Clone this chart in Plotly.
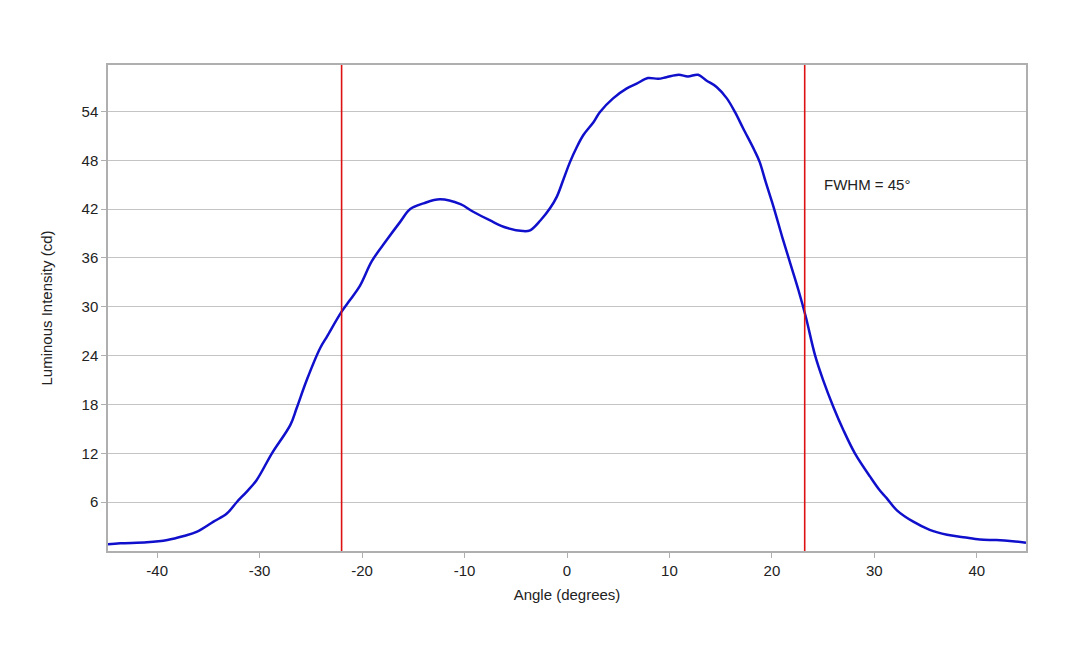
import plotly.graph_objects as go

# Data
angle = [-44.8, -43.6, -41.0, -39.0, -37.4, -36.1, -34.5, -33.2, -32.2, -31.25, -30.3, -28.8,
         -27.0, -26.4, -25.4, -24.1, -23.4, -22.0, -21.2, -20.2, -19.05, -17.6, -16.3, -15.3,
         -14.0, -12.4, -10.4, -9.2, -7.5, -5.9, -4.3, -3.6, -2.6, -1.66, -1.0, -0.36, 0.3,
         0.95, 1.6, 2.6, 3.2, 4.5, 5.8, 6.8, 7.9, 8.9, 9.7, 10.9, 11.8, 12.8, 13.6, 14.6,
         15.6, 16.4, 17.2, 18.3, 18.8, 19.4, 20.2, 21.0, 21.8, 22.6, 23.3, 24.2, 25.0, 26.0,
         26.96, 28.1, 29.6, 30.5, 31.2, 32.2, 33.8, 35.4, 37.1, 38.7, 40.3, 41.9, 43.5, 44.8]
intensity = [0.82, 0.95, 1.07, 1.35, 1.84, 2.37, 3.6, 4.6, 6.05, 7.3, 8.7, 12.0,
             15.5, 17.5, 21.0, 24.9, 26.4, 29.4, 30.8, 32.6, 35.6, 38.2, 40.4, 42.0,
             42.7, 43.2, 42.6, 41.7, 40.6, 39.7, 39.3, 39.4, 40.6, 42.1, 43.5, 45.6, 47.8,
             49.6, 51.1, 52.7, 53.9, 55.6, 56.8, 57.4, 58.1, 58.0, 58.2, 58.5, 58.3, 58.5, 57.8, 57.0,
             55.6, 53.9, 51.9, 49.2, 47.8, 45.3, 42.1, 38.6, 35.3, 32.0, 28.8, 24.1, 21.0, 17.7,
             14.9, 12.0, 9.1, 7.5, 6.5, 5.0, 3.6, 2.6, 2.0, 1.7, 1.4, 1.35, 1.2, 1.0]

fwhm_angles = [-22.0, 23.2]
fwhm_label = "FWHM = 45°"
x_ticks = [-40, -30, -20, -10, 0, 10, 20, 30, 40]
x_ticktext = ["-40", "-30", "-20", "-10", "0", "10", "20", "30", "40"]
y_ticks = [6, 12, 18, 24, 30, 36, 42, 48, 54]
x_range = [-44.8, 44.8]
y_range = [0, 59.7]

font_family = "Liberation Sans, Arial, sans-serif"

fig = go.Figure()

fig.add_trace(go.Scatter(
    x=angle, y=intensity, mode="lines",
    line=dict(color="#0F0FCC", width=2.5, shape="spline", smoothing=1.0),
    showlegend=False, hoverinfo="skip",
))

for a in fwhm_angles:
    fig.add_trace(go.Scatter(
        x=[a, a], y=y_range, mode="lines",
        line=dict(color="#DD1111", width=1.6),
        showlegend=False, hoverinfo="skip",
    ))

fig.add_annotation(
    x=24.85, y=45.06, text=fwhm_label, showarrow=False,
    xanchor="left", yanchor="middle",
    font=dict(family=font_family, size=15, color="#222222"),
)

axis_common = dict(
    showline=True, linecolor="#AFAFAF", linewidth=1.5, mirror=True,
    ticks="outside", ticklen=5, tickcolor="#AFAFAF",
    tickfont=dict(family=font_family, size=15, color="#222222"),
    zeroline=False,
)

fig.update_xaxes(
    range=x_range, tickvals=x_ticks, ticktext=x_ticktext, showgrid=False,
    title=dict(text="Angle (degrees)", font=dict(family=font_family, size=15, color="#222222"), standoff=12),
    **axis_common,
)
fig.update_yaxes(
    range=y_range, tickvals=y_ticks, showgrid=True, gridcolor="#C4C4C4", gridwidth=1.2,
    title=dict(text="Luminous Intensity (cd)", font=dict(family=font_family, size=15, color="#222222"), standoff=25),
    **axis_common,
)

fig.update_layout(
    width=1080, height=648,
    margin=dict(l=108, r=54, t=65, b=97),
    paper_bgcolor="white", plot_bgcolor="white",
    font=dict(family=font_family, size=15, color="#222222"),
)

fig.write_html("out.html")
